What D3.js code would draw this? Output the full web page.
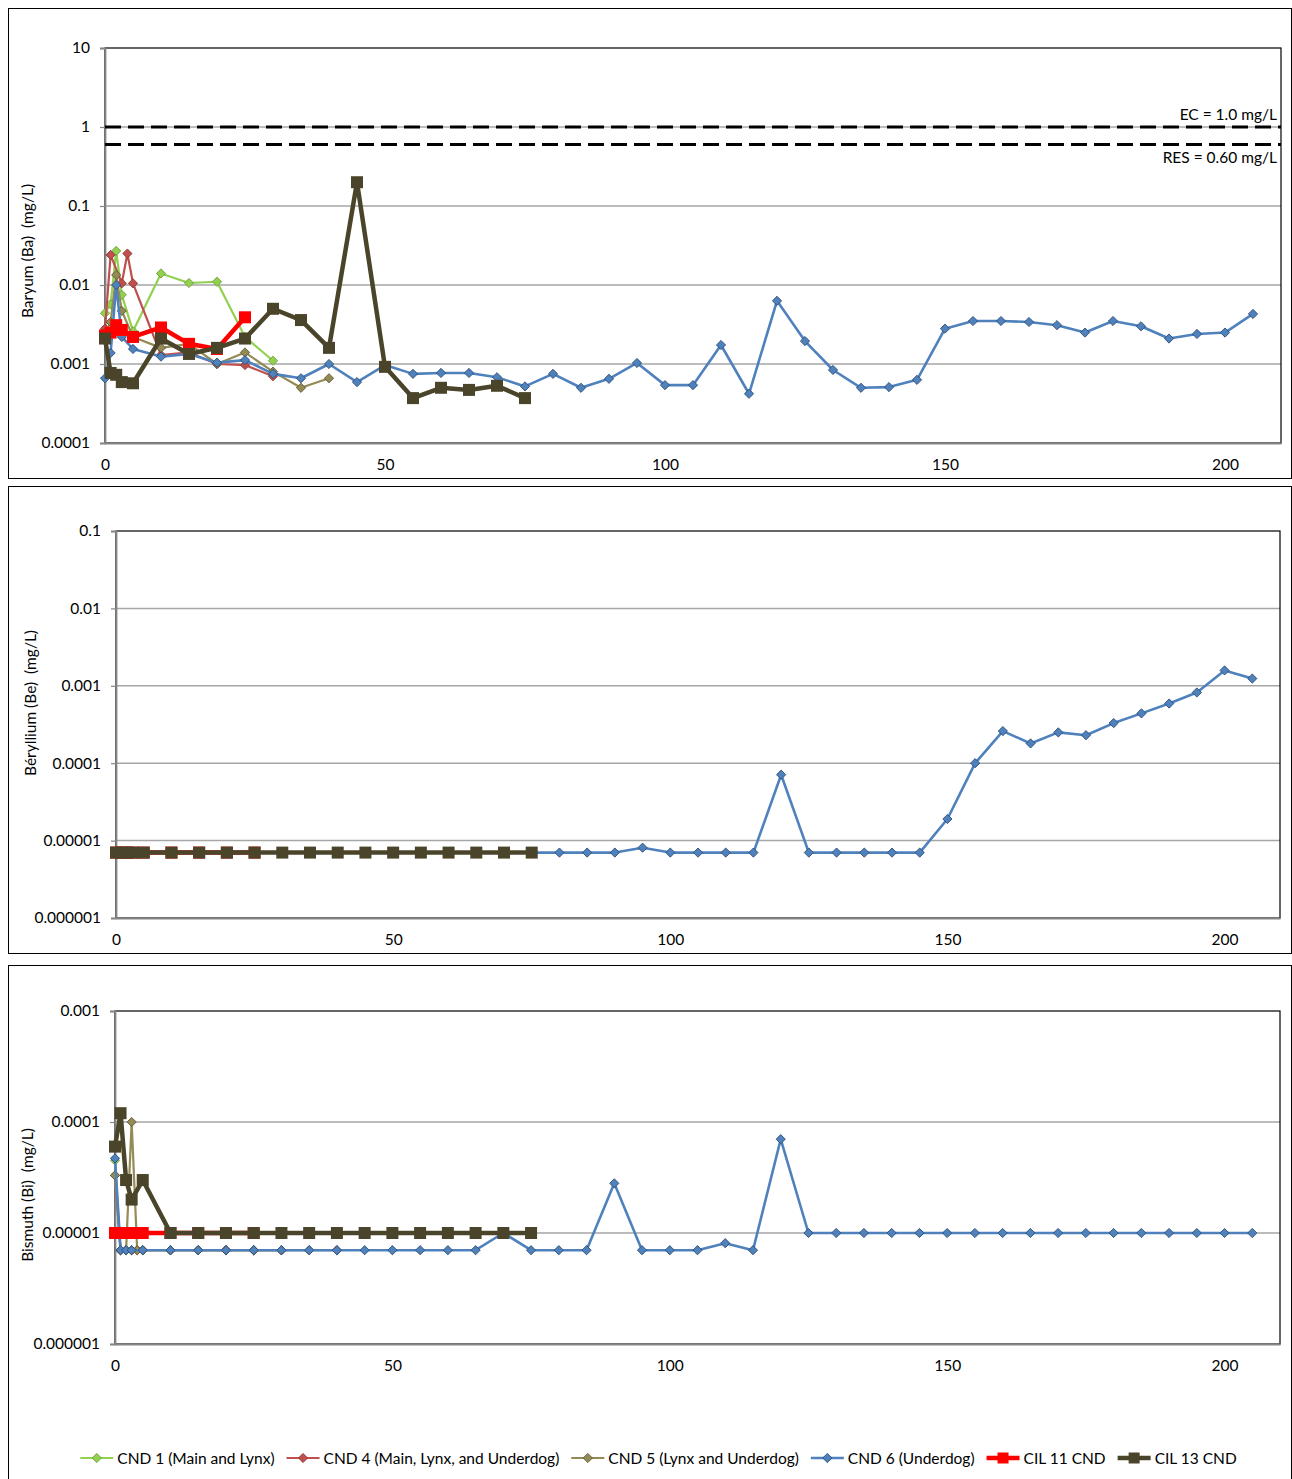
<!DOCTYPE html>
<html><head><meta charset="utf-8">
<script src="https://cdn.jsdelivr.net/npm/d3@7"></script>
<style>
body{margin:0;background:#fff}
svg{display:block;font-family:Lato,'Open Sans',sans-serif}
text{white-space:pre}
</style>
</head><body>
<svg id="c" width="1292" height="1479"></svg>
<script>
// ---------- DATA ----------
const seriesNames = ["CND 1 (Main and Lynx)","CND 4 (Main, Lynx, and Underdog)","CND 5 (Lynx and Underdog)","CND 6 (Underdog)","CIL 11 CND","CIL 13 CND"];
const xTicks = [0,50,100,150,200];

const cnd1Days = [0,1,2,3,5,10,15,20,25,30];
const cnd4Days = [0,1,3,4,5,10,15,20,25,30];
const cnd5Days = [0,1,2,3,5,10,15,20,25,30,35,40];
const cnd5BiDays = [0,1,2,3,4,5,10,15,20,25,30,35,40];
const cnd6Days = [0,1,2,3,5,10,15,20,25,30,35,40,45,50,55,60,65,70,75,80,85,90,95,100,105,110,115,120,125,130,135,140,145,150,155,160,165,170,175,180,185,190,195,200,205];
const cil11Days = [0,1,2,3,5,10,15,20,25];
const cil13Days = [0,1,2,3,5,10,15,20,25,30,35,40,45,50,55,60,65,70,75];

// Barium (Ba) mg/L
const baTicks = [0.0001,0.001,0.01,0.1,1,10];
const baTickLabels = ["0.0001","0.001","0.01","0.1","1","10"];
const baGuidelines = [1.0, 0.60];
const baGuideLabels = ["EC = 1.0 mg/L","RES = 0.60 mg/L"];
const baCnd1 = [0.0044,0.0057,0.027,0.0075,0.0026,0.014,0.0106,0.011,0.0022,0.0011];
const baCnd4 = [0.0028,0.024,0.0105,0.025,0.0105,0.0013,0.0014,0.0010,0.00097,0.0007];
const baCnd5 = [0.0025,0.0034,0.0134,0.0047,0.0022,0.0016,0.0018,0.0010,0.0014,0.0008,0.0005,0.00066];
const baCnd6 = [0.00066,0.00138,0.0100,0.0022,0.00155,0.00124,0.00134,0.00104,0.00112,0.00075,0.00066,0.00100,0.00059,0.00097,0.00075,0.00077,0.00077,0.00068,0.00052,0.00075,0.00050,0.00065,0.00103,0.00054,0.00054,0.00174,0.00042,0.0063,0.00195,0.00084,0.00050,0.00051,0.00063,0.0028,0.0035,0.0035,0.0034,0.0031,0.0025,0.0035,0.0030,0.0021,0.0024,0.0025,0.0043];
const baCil11 = [0.0023,0.0025,0.0031,0.0027,0.0022,0.0029,0.0018,0.00155,0.0039];
const baCil13 = [0.0021,0.00077,0.00073,0.00059,0.00057,0.0021,0.00134,0.0016,0.0021,0.0050,0.0036,0.0016,0.20,0.00092,0.00037,0.00050,0.00047,0.00053,0.00037];

// Beryllium (Be) mg/L
const beTicks = [0.000001,0.00001,0.0001,0.001,0.01,0.1];
const beTickLabels = ["0.000001","0.00001","0.0001","0.001","0.01","0.1"];
const beCnd1 = [7e-6,7e-6,7e-6,7e-6,7e-6,7e-6,7e-6,7e-6,7e-6,7e-6];
const beCnd4 = [7e-6,7e-6,7e-6,7e-6,7e-6,7e-6,7e-6,7e-6,7e-6,7e-6];
const beCnd5 = [7e-6,7e-6,7e-6,7e-6,7e-6,7e-6,7e-6,7e-6,7e-6,7e-6,7e-6,7e-6];
const beCnd6 = [7e-6,7e-6,7e-6,7e-6,7e-6,7e-6,7e-6,7e-6,7e-6,7e-6,7e-6,7e-6,7e-6,7e-6,7e-6,7e-6,7e-6,7e-6,7e-6,7e-6,7e-6,7e-6,8.1e-6,7e-6,7e-6,7e-6,7e-6,7.1e-5,7e-6,7e-6,7e-6,7e-6,7e-6,1.9e-5,1.0e-4,2.6e-4,1.8e-4,2.5e-4,2.3e-4,3.3e-4,4.4e-4,5.9e-4,8.2e-4,1.58e-3,1.24e-3];
const beCil11 = [7e-6,7e-6,7e-6,7e-6,7e-6,7e-6,7e-6,7e-6,7e-6];
const beCil13 = [7e-6,7e-6,7e-6,7e-6,7e-6,7e-6,7e-6,7e-6,7e-6,7e-6,7e-6,7e-6,7e-6,7e-6,7e-6,7e-6,7e-6,7e-6,7e-6];

// Bismuth (Bi) mg/L
const biTicks = [0.000001,0.00001,0.0001,0.001];
const biTickLabels = ["0.000001","0.00001","0.0001","0.001"];
const biCnd1 = [4.5e-5,7e-6,7e-6,7e-6,7e-6,7e-6,7e-6,7e-6,7e-6,7e-6];
const biCnd4 = [3.3e-5,7e-6,7e-6,7e-6,7e-6,7e-6,7e-6,7e-6,7e-6,7e-6];
const biCnd5 = [3.3e-5,7e-6,7e-6,1e-4,7e-6,7e-6,7e-6,7e-6,7e-6,7e-6,7e-6,7e-6,7e-6];
const biCnd6 = [4.7e-5,7e-6,7e-6,7e-6,7e-6,7e-6,7e-6,7e-6,7e-6,7e-6,7e-6,7e-6,7e-6,7e-6,7e-6,7e-6,7e-6,1e-5,7e-6,7e-6,7e-6,2.8e-5,7e-6,7e-6,7e-6,8.1e-6,7e-6,7e-5,1e-5,1e-5,1e-5,1e-5,1e-5,1e-5,1e-5,1e-5,1e-5,1e-5,1e-5,1e-5,1e-5,1e-5,1e-5,1e-5,1e-5];
const biCil11 = [1e-5,1e-5,1e-5,1e-5,1e-5,1e-5,1e-5,1e-5,1e-5];
const biCil13 = [6e-5,1.2e-4,3e-5,2e-5,3e-5,1e-5,1e-5,1e-5,1e-5,1e-5,1e-5,1e-5,1e-5,1e-5,1e-5,1e-5,1e-5,1e-5,1e-5];

// ---------- STYLE ----------
const styles = [
  {line:"#92D050", fill:"#92D050", stroke:"#6E9E3A", w:2.2, m:"d"},
  {line:"#C0504D", fill:"#C0504D", stroke:"#8C3836", w:2.2, m:"d"},
  {line:"#948A54", fill:"#948A54", stroke:"#5E5734", w:2.2, m:"d"},
  {line:"#4F81BD", fill:"#4F81BD", stroke:"#2C4D75", w:2.6, m:"d"},
  {line:"#FF0000", fill:"#FF0000", stroke:"#FF0000", w:4.5, m:"s"},
  {line:"#4A452A", fill:"#4A452A", stroke:"#4A452A", w:4.5, m:"s"}
];

const svg = d3.select("#c");
const FONT = 15.5;

function zip(days, vals){ return days.map((d,i)=>({x:d, y:vals[i]})); }

const charts = [
  {panel:[8.5,8.5,1283,470], plot:{l:105,t:48,r:1281,b:443}, ticks:baTicks, labels:baTickLabels, dom:[1e-4,10],
   title:"Baryum (Ba)  (mg/L)", tx:27, ty:251, sq:12,
   series:[zip(cnd1Days,baCnd1),zip(cnd4Days,baCnd4),zip(cnd5Days,baCnd5),zip(cnd6Days,baCnd6),zip(cil11Days,baCil11),zip(cil13Days,baCil13)],
   guides:true},
  {panel:[8.5,486.5,1283,467], plot:{l:116,t:531,r:1280,b:918}, ticks:beTicks, labels:beTickLabels, dom:[1e-6,0.1],
   title:"Béryllium (Be)  (mg/L)", tx:30, ty:703, sq:12,
   series:[zip(cnd1Days,beCnd1),zip(cnd4Days,beCnd4),zip(cnd5Days,beCnd5),zip(cnd6Days,beCnd6),zip(cil11Days,beCil11),zip(cil13Days,beCil13)]},
  {panel:[8.5,965.5,1283,530], plot:{l:115,t:1011,r:1280,b:1344}, ticks:biTicks, labels:biTickLabels, dom:[1e-6,1e-3],
   title:"Bismuth (Bi)  (mg/L)", tx:27, ty:1195, sq:12,
   series:[zip(cnd1Days,biCnd1),zip(cnd4Days,biCnd4),zip(cnd5BiDays,biCnd5),zip(cnd6Days,biCnd6),zip(cil11Days,biCil11),zip(cil13Days,biCil13)]}
];

function marker(g, type, x, y, st, sq){
  if(type==="d"){
    const r=4.6;
    g.append("path").attr("d",`M${x},${y-r}L${x+r},${y}L${x},${y+r}L${x-r},${y}Z`)
      .attr("fill",st.fill).attr("stroke",st.stroke).attr("stroke-width",0.9);
  } else {
    g.append("rect").attr("x",x-sq/2).attr("y",y-sq/2).attr("width",sq).attr("height",sq)
      .attr("fill",st.fill);
  }
}

charts.forEach(c=>{
  const p=c.plot;
  svg.append("rect").attr("x",c.panel[0]).attr("y",c.panel[1]).attr("width",c.panel[2]).attr("height",c.panel[3])
    .attr("fill","#fff").attr("stroke","#000").attr("stroke-width",1);
  const x=d3.scaleLinear().domain([0,210]).range([p.l,p.r]);
  const y=d3.scaleLog().domain(c.dom).range([p.b,p.t]);
  const g=svg.append("g");
  g.selectAll(".gl").data(c.ticks.slice(1,-1)).enter().append("line")
    .attr("x1",p.l).attr("x2",p.r).attr("y1",d=>y(d)).attr("y2",d=>y(d))
    .attr("stroke","#A6A6A6").attr("stroke-width",1.5);
  g.append("rect").attr("x",p.l).attr("y",p.t).attr("width",p.r-p.l).attr("height",p.b-p.t)
    .attr("fill","none").attr("stroke","#000").attr("stroke-width",1.2);
  const ya=d3.axisLeft(y).tickValues(c.ticks).tickFormat((d,i)=>c.labels[i]).tickSize(5).tickPadding(10);
  const yg=g.append("g").attr("transform",`translate(${p.l},0)`).call(ya);
  yg.select(".domain").attr("stroke","#868686").attr("stroke-width",1.8);
  yg.selectAll(".tick line").attr("stroke","#868686").attr("stroke-width",1.2);
  yg.selectAll("text").attr("font-size",FONT).attr("font-family","Lato, sans-serif").attr("fill","#000");
  const xa=d3.axisBottom(x).tickValues(xTicks).tickFormat(d3.format("d")).tickSize(0).tickPadding(16);
  const xg=g.append("g").attr("transform",`translate(0,${p.b})`).call(xa);
  xg.select(".domain").attr("stroke","#868686").attr("stroke-width",1.8);
  xg.selectAll("text").attr("font-size",FONT).attr("font-family","Lato, sans-serif").attr("fill","#000");
  svg.append("text").attr("transform",`translate(${c.tx},${c.ty}) rotate(-90)`)
    .attr("text-anchor","middle").attr("dominant-baseline","central")
    .attr("font-size",FONT).attr("xml:space","preserve").text(c.title);
  if(c.guides){
    baGuidelines.forEach((v,i)=>{
      g.append("line").attr("x1",p.l).attr("x2",p.r).attr("y1",y(v)).attr("y2",y(v))
        .attr("stroke","#000").attr("stroke-width",3).attr("stroke-dasharray","16,7");
      g.append("text").attr("x",p.r-4).attr("y",i===0? y(v)-7 : y(v)+18)
        .attr("text-anchor","end").attr("font-size",FONT).text(baGuideLabels[i]);
    });
  }
  const line=d3.line().x(d=>x(d.x)).y(d=>y(d.y));
  c.series.forEach((data,si)=>{
    const st=styles[si];
    const sg=g.append("g");
    sg.append("path").attr("d",line(data)).attr("fill","none").attr("stroke",st.line)
      .attr("stroke-width",st.w).attr("stroke-linejoin","round");
    data.forEach(d=>marker(sg,st.m,x(d.x),y(d.y),st,c.sq));
  });
});

// legend
const lg=svg.append("g");
const ly=1458;
let items=[];
seriesNames.forEach((n,i)=>{
  const ig=lg.append("g");
  const st=styles[i];
  ig.append("line").attr("x1",0).attr("x2",33).attr("y1",0).attr("y2",0).attr("stroke",st.line).attr("stroke-width",st.w);
  marker(ig,st.m,16.5,0,st,11);
  const t=ig.append("text").attr("x",37).attr("y",0).attr("dominant-baseline","central").attr("font-size",FONT).text(n);
  const w=37+t.node().getComputedTextLength();
  items.push({g:ig,w});
});
const gap=12;
const total=d3.sum(items,d=>d.w)+gap*(items.length-1);
let sx=658.5-total/2;
items.forEach(it=>{ it.g.attr("transform",`translate(${sx},${ly})`); sx+=it.w+gap; });
</script>
</body></html>
